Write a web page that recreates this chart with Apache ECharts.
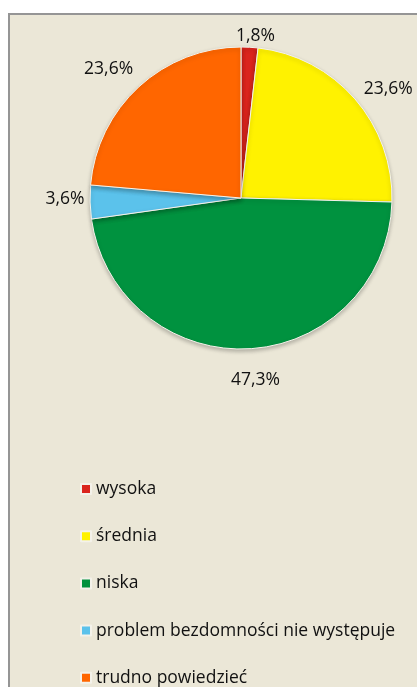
<!DOCTYPE html>
<html>
<head>
<meta charset="utf-8">
<script src="https://cdn.jsdelivr.net/npm/echarts@6/dist/echarts.min.js"></script>
<style>
  html, body { margin: 0; padding: 0; background: #ffffff; overflow: hidden; }
  .frame {
    position: absolute; left: 8px; top: 13px; width: 420px; height: 700px;
    background: #ebe7d7;
    border-top: 2px solid #959595; border-left: 2px solid #959595;
  }
  #chart { position: absolute; left: 0; top: 0; width: 417px; height: 760px; }
</style>
</head>
<body>
<div class="frame"></div>
<div id="chart"></div>
<script>
// kategorie i wartości (%)
var categories = ['wysoka', 'średnia', 'niska', 'problem bezdomności nie występuje', 'trudno powiedzieć']
var values = [1.8, 23.6, 47.3, 3.6, 23.6]
var colors = ['#da251d', '#fff200', '#00923f', '#5bc2eb', '#ff6600']

var myChart = echarts.init(document.getElementById('chart'))

var pieData = categories.map(function (name, i) {
  return { name: name, value: values[i] }
})

function fmt (p) {
  return p.value.toFixed(1).replace('.', ',') + '%'
}

var font = '"Open Sans", sans-serif'
// przesunięcia etykiet jak w Excelu
var labelShift = [[4, 25], [6, 14], [4, -5], [11, -4], [-6, 9]]

var option = {
  backgroundColor: 'transparent',
  color: colors,
  animation: false,
  legend: {
    orient: 'vertical',
    left: 80,
    top: 480,
    padding: 0,
    icon: 'rect',
    itemWidth: 10,
    itemHeight: 10,
    itemGap: 29.2,
    data: categories,
    textStyle: { fontFamily: font, fontSize: 17.5, lineHeight: 17, color: '#111' }
  },
  series: [{
    type: 'pie',
    center: [241, 198],
    radius: 151,
    startAngle: 90,
    clockwise: true,
    data: pieData,
    label: { show: false },
    labelLine: { show: false },
    itemStyle: {
      borderColor: '#f4f2ea',
      borderWidth: 1,
      shadowBlur: 4,
      shadowOffsetY: 2,
      shadowColor: 'rgba(0,0,0,0.25)'
    }
  }, {
    // niewidoczny pierścień tylko na etykiety
    type: 'pie',
    center: [241, 198],
    radius: [151, 217],
    startAngle: 90,
    clockwise: true,
    silent: true,
    data: pieData.map(function (d, i) {
      return { name: d.name, value: d.value, label: { offset: labelShift[i] } }
    }),
    itemStyle: { color: 'rgba(0,0,0,0)' },
    label: {
      position: 'inside',
      formatter: fmt,
      fontFamily: font,
      fontSize: 17.5,
      color: '#111'
    },
    labelLine: { show: false },
    legendHoverLink: false
  }]
}

myChart.setOption(option)
</script>
</body>
</html>
